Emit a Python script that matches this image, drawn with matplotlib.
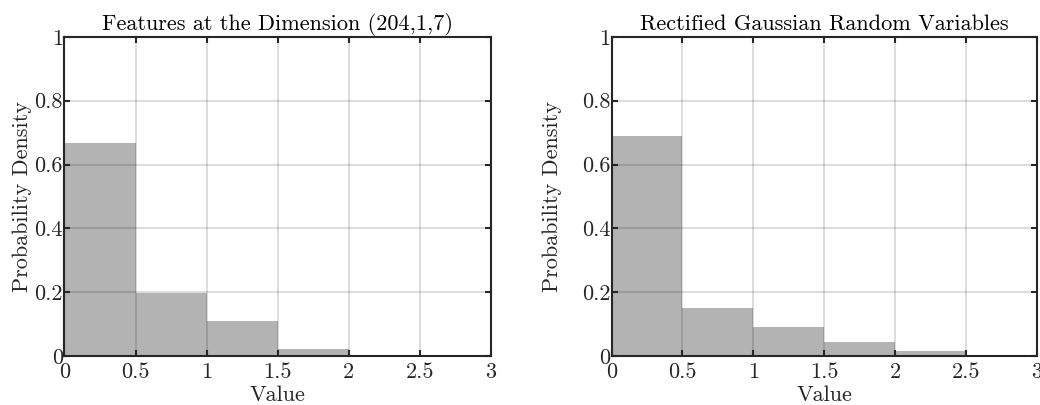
import matplotlib
matplotlib.use("Agg")
import matplotlib.pyplot as plt
import numpy as np

plt.rcParams['font.family'] = 'serif'
plt.rcParams['font.serif'] = ['cmr10']
plt.rcParams['mathtext.fontset'] = 'cm'
plt.rcParams['axes.formatter.use_mathtext'] = True

# histogram bins (left edges) and heights
bin_edges = [0, 0.5, 1.0, 1.5, 2.0, 2.5, 3.0]
feat_density = [0.667, 0.196, 0.110, 0.021, 0.001, 0.0]
gauss_density = [0.690, 0.149, 0.092, 0.043, 0.016, 0.001]
titles = ['Features at the Dimension (204,1,7)', 'Rectified Gaussian Random Variables']
x_ticks = [0, 0.5, 1, 1.5, 2, 2.5, 3]
x_ticklabels = ['0', '0.5', '1', '1.5', '2', '2.5', '3']
y_ticks = [0, 0.2, 0.4, 0.6, 0.8, 1]
y_ticklabels = ['0', '0.2', '0.4', '0.6', '0.8', '1']

fig = plt.figure(figsize=(10.4, 4.05), dpi=100)
ax1 = fig.add_axes([0.062, 0.121, 0.410, 0.788])
ax2 = fig.add_axes([0.588, 0.121, 0.409, 0.788])

# ylabel x offsets differ: the left one is squeezed by the figure edge
ylabel_x = [-0.098, -0.139]

for ax, dens, title, yx in zip([ax1, ax2], [feat_density, gauss_density], titles, ylabel_x):
    edges = np.array(bin_edges)
    ax.bar(edges[:-1], dens, width=np.diff(edges), align='edge',
           color='#b3b3b3', edgecolor='none', zorder=1)
    ax.set_xlim(0, 3)
    ax.set_ylim(0, 1)
    ax.set_xticks(x_ticks)
    ax.set_xticklabels(x_ticklabels)
    ax.set_yticks(y_ticks)
    ax.set_yticklabels(y_ticklabels)
    ax.grid(True, color='black', alpha=0.15, linewidth=1.3, zorder=2)
    ax.set_axisbelow(False)
    ax.tick_params(direction='in', top=True, right=True, length=4, width=1.5,
                   labelsize=16, color='#262626', labelcolor='#262626')
    ax.tick_params(axis='x', pad=5)
    ax.tick_params(axis='y', pad=1)
    for sp in ax.spines.values():
        sp.set_linewidth(1.5)
        sp.set_color('#262626')
        sp.set_zorder(3)
    ax.set_title(title, fontsize=16, pad=5)
    ax.set_xlabel('Value', fontsize=16, color='#262626')
    ax.set_ylabel('Probability Density', fontsize=16, color='#262626')
    ax.xaxis.set_label_coords(0.5, -0.122)
    ax.xaxis.label.set_va('center')
    ax.yaxis.set_label_coords(yx, 0.5)
    ax.yaxis.label.set_va('center')

fig.savefig('out.png', dpi=100)
